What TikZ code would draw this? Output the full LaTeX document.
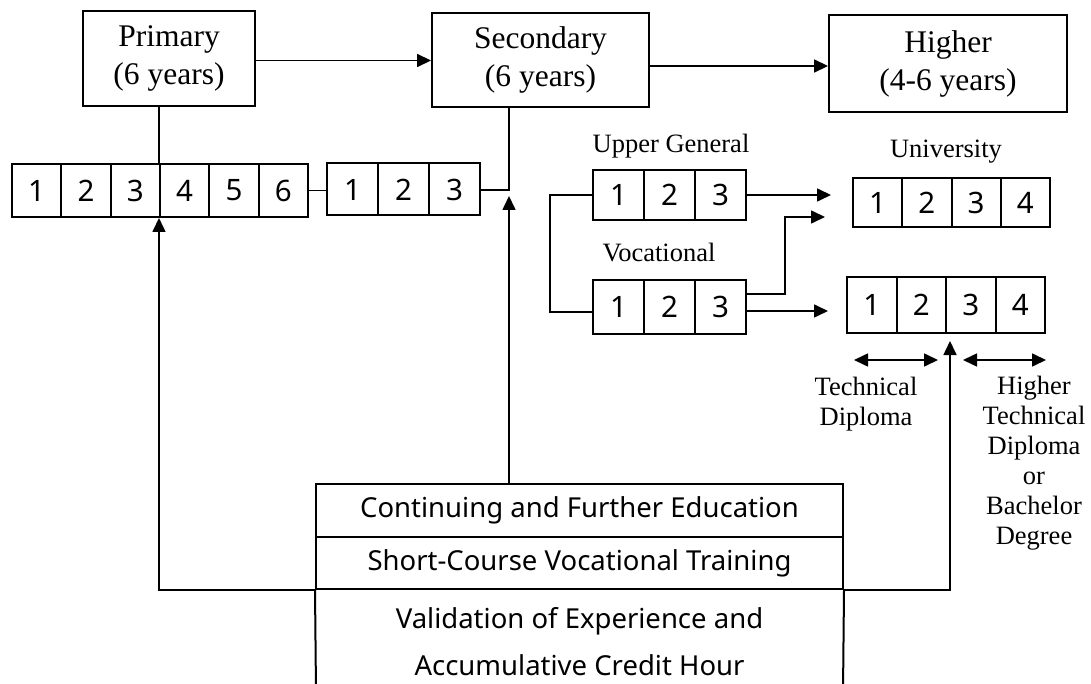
\documentclass[tikz,border=0pt]{standalone}
\usepackage{fontspec}
\setmainfont{Liberation Serif}
\newfontfamily\cellfont{Noto Sans}
\usetikzlibrary{arrows.meta}
\begin{document}
\begin{tikzpicture}[x=1pt,y=-1pt,
  box/.style={draw, line width=1.9pt, inner sep=0pt, align=center, font=\fontsize{31.5}{38}\selectfont},
  cell/.style={draw, line width=2pt, inner sep=0pt, font=\cellfont\fontsize{29.5}{30}\selectfont},
  lbl/.style={inner sep=0pt, align=center, font=\fontsize{26.5}{30}\selectfont},
  conn/.style={line width=1.6pt},
  arr/.style={conn, -{Triangle[length=14pt,width=13pt]}},
  darr/.style={conn, {Triangle[length=14pt,width=13pt]}-{Triangle[length=14pt,width=13pt]}},
  band/.style={draw, line width=2pt, inner sep=0pt, minimum width=527pt, font=\cellfont\fontsize{27.5}{33}\selectfont},
  bandtext/.style={inner sep=0pt, align=center, font=\cellfont\fontsize{27.5}{47}\selectfont}
]
\useasboundingbox (0,0) rectangle (1091,684);

% level boxes
\node[box, minimum width=172pt, minimum height=95pt] (prim) at (169,58.5) {Primary\\(6 years)};
\node[box, minimum width=217pt, minimum height=94pt] (sec) at (540.5,60) {Secondary\\(6 years)};
\node[box, minimum width=238pt, minimum height=97pt] (high) at (948,63.5) {Higher\\(4-6 years)};

% cell rows
\foreach \i in {1,...,6} \node[cell, minimum width=49.33pt, minimum height=53pt] (a\i) at ({12+49.33*(\i-0.5)},190.5) {\i};
\foreach \i in {1,2,3} \node[cell, minimum width=51pt, minimum height=52pt] (b\i) at ({327+51*(\i-0.5)},189.5) {\i};
\foreach \i in {1,2,3} \node[cell, minimum width=51pt, minimum height=50pt] (u\i) at ({593+51*(\i-0.5)},195) {\i};
\foreach \i in {1,2,3} \node[cell, minimum width=51pt, minimum height=54pt] (v\i) at ({593+51*(\i-0.5)},307) {\i};
\foreach \i in {1,...,4} \node[cell, minimum width=49.25pt, minimum height=49pt] (n\i) at ({853+49.25*(\i-0.5)},203) {\i};
\foreach \i in {1,...,4} \node[cell, minimum width=49.5pt, minimum height=56pt] (l\i) at ({847+49.5*(\i-0.5)},305) {\i};

% labels
\node[lbl] (ug) at (671,146) {Upper General};
\node[lbl] (uni) at (946,152) {University};
\node[lbl] (voc) at (659,253) {Vocational};
\node[lbl] (td) at (866,404) {Technical\\Diploma};
\node[lbl] (htd) at (1034,463) {Higher\\Technical\\Diploma\\or\\Bachelor\\Degree};

% bottom box
\node[band, minimum height=53pt] (c1) at (579.5,510.5) {Continuing and Further Education};
\node[band, minimum height=52pt] (c2) at (579.5,563) {Short-Course Vocational Training};
\node[bandtext] (c3) at (579.5,642) {Validation of Experience and\\Accumulative Credit Hour};
\coordinate (cbl) at (316,692);
\coordinate (cbr) at (843,692);
\draw[line width=2pt] (c2.south west) -- (cbl);
\draw[line width=2pt] (c2.south east) -- (cbr);

% top connectors
\draw[arr] ([yshift=-2pt]prim.east) -- ([yshift=-2pt]prim.east -| sec.west);
\draw[arr] ([yshift=-6pt]sec.east) -- ([yshift=-6pt]sec.east -| high.west);

% primary / lower secondary
\draw[conn] (prim.south -| a4.west) -- (a4.north west);
\draw[conn] (a6.east) -- (a6.east -| b1.west);
\coordinate (J) at (509,190);
\coordinate (Jb) at (509,196);
\draw[conn] (sec.south -| J) -- (J) -- (J -| b3.east);
\draw[arr] (c1.north -| Jb) -- (Jb);

% feedback from bottom box
\draw[arr] (c2.south west) -- (c2.south west -| a4.south west) -- (a4.south west);
\coordinate (T) at (950,341);
\draw[arr] (c2.south east) -- (c2.south east -| T) -- (T);

% upper secondary bracket
\coordinate (BR) at (550,0);
\draw[conn] (u1.west) -- (u1.west -| BR) -- ([yshift=-5pt]v1.west -| BR) -- ([yshift=-5pt]v1.west);

% to higher
\draw[arr] (u3.east) -- ([xshift=-21pt]u3.east -| n1.west);
\coordinate (VB) at (785,217);
\coordinate (VT) at (825,217);
\draw[arr] ([yshift=13pt]v3.east) -- ([yshift=13pt]v3.east -| VB) -- (VB) -- (VT);
\draw[arr] ([yshift=-4pt]v3.east) -- ([yshift=-4pt,xshift=-18pt]v3.east -| l1.west);

% duration arrows
\coordinate (D1) at (854,360);
\coordinate (D2) at (938,360);
\coordinate (D3) at (963,360);
\coordinate (D4) at (1046,360);
\draw[darr] (D1) -- (D2);
\draw[darr] (D3) -- (D4);
\end{tikzpicture}
\end{document}
